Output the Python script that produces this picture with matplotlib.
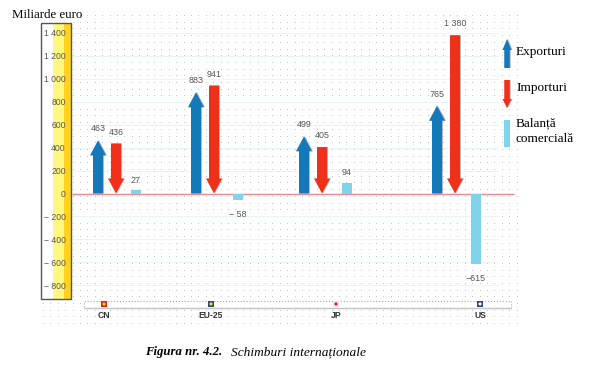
import numpy as np
import matplotlib
matplotlib.use("Agg")
import matplotlib.pyplot as plt
from matplotlib.patches import Polygon, Rectangle

countries = ["CN", "EU-25", "JP", "US"]
exports = [463, 883, 499, 765]
imports = [436, 941, 405, 1380]
balance = [27, -58, 94, -615]
export_labels = ["463", "883", "499", "765"]
import_labels = ["436", "941", "405", "1 380"]
balance_labels = ["27", "\u2212 58", "94", "\u2212615"]
yticks = [1400, 1200, 1000, 800, 600, 400, 200, 0, -200, -400, -600, -800]
ytick_labels = ["1 400", "1 200", "1 000", "800", "600", "400", "200", "0",
                "\u2212 200", "\u2212 400", "\u2212 600", "\u2212 800"]

# horizontal placement, in picture pixels
export_x = [98, 196, 304, 437]
import_x = [116, 214, 322, 455]
balance_x = [136, 238, 347, 476]
flag_x = [104, 211, 336, 480]
flag_colors = ["#e02020", "#2a4a90", "#e8e8e8", "#2a4a90"]
flag_inner = ["#ffe000", "#ffe000", "#e8102a", "#ffffff"]

BLUE = "#1578b8"
RED = "#f03018"
CYAN = "#7fd4ec"
GREY = "#555555"
W, H = 592, 376
px_per_unit = 0.1147

fig = plt.figure(figsize=(W / 100, H / 100), dpi=100)

# background layer in pixel coordinates: dots, legend, captions
bg = fig.add_axes([0, 0, 1, 1])
bg.set_xlim(0, W)
bg.set_ylim(H, 0)
bg.axis("off")
gx, gy = np.meshgrid(np.arange(43, 518, 7.4), np.arange(15, 324, 6.7))
keep = (gx > 72) | (gy > 300)
bg.scatter(gx[keep], gy[keep], s=0.45, color="#c0c0c0", linewidths=0)


def arrow(ax, x, base, tip, color, shaft=10, head=16, head_len=15, y_px=1.0, z=3):
    # base and tip in data units, sizes in pixels, y_px = pixels per data unit
    sign = 1 if tip > base else -1
    neck = tip - sign * head_len / y_px
    pts = [(x - shaft / 2, base), (x - shaft / 2, neck), (x - head / 2, neck), (x, tip),
           (x + head / 2, neck), (x + shaft / 2, neck), (x + shaft / 2, base)]
    shadow = [(px + 1, py) for px, py in pts]
    ax.add_patch(Polygon(shadow, closed=True, color="#b8b8b8", lw=0, zorder=z - 1))
    ax.add_patch(Polygon(pts, closed=True, color=color, lw=0, zorder=z))


# legend keys
arrow(bg, 507, 68, 39, BLUE, shaft=5.5, head=9, head_len=11)
arrow(bg, 507, 80, 108, RED, shaft=5.5, head=9, head_len=9)
bg.add_patch(Rectangle((504, 120), 6, 27, color=CYAN, lw=0))
serif = {"family": "Liberation Serif", "size": 9.5, "color": "black"}
bg.text(516, 52, "Exporturi", va="center", **serif)
bg.text(516, 88, "Importuri", va="center", **serif)
bg.text(516, 123, "Balan\u021b\u0103", va="center", **serif)
bg.text(516, 139, "comercial\u0103", va="center", **serif)
bg.text(12, 15, "Miliarde euro", va="center", family="Liberation Serif", size=9.3)
bg.text(145, 352, "Figura nr. 4.2.", va="center", family="Liberation Serif", size=9.2,
        weight="bold", style="italic")
bg.text(231, 352, "Schimburi interna\u021bionale", va="center", family="Liberation Serif",
        size=9.6, style="italic")

# main chart, x in pixels, y in miliarde euro
ax = fig.add_axes([41.5 / W, 1 - 299 / H, (516 - 41.5) / W, (299 - 22.5) / H])
ax.patch.set_alpha(0)
ax.set_xlim(41.5, 516)
ax.set_ylim((193.5 - 299) / px_per_unit, (193.5 - 22.5) / px_per_unit)
for s in ax.spines.values():
    s.set_visible(False)

ax.axvspan(53.5, 64, color="#fff780", lw=0, zorder=1)
ax.axvspan(64, 71.5, color="#ffd21e", lw=0, zorder=1)
ax.add_patch(Rectangle((41.5, ax.get_ylim()[0]), 30, ax.get_ylim()[1] - ax.get_ylim()[0],
                       fill=False, ec="#555555", lw=1, zorder=2, clip_on=False))

# grid stops short of the legend keys
ax.hlines([t for t in yticks if t != 0], 72, 498, color="#e4f6fa", lw=0.7, zorder=1)
ax.hlines(0, 72, 514, color="#e88a90", lw=1, zorder=2)

ax.set_yticks(yticks, ytick_labels)
ax.tick_params(axis="y", length=0, pad=-17.5, labelsize=6.2, labelcolor=GREY, labelfontfamily="Liberation Sans")
ax.set_xticks(flag_x, countries)
ax.tick_params(axis="x", length=0, pad=9, labelsize=6.2, labelcolor="#333333", labelfontfamily="Liberation Sans")
for label in ax.get_xticklabels():
    label.set_fontweight("bold")

# category band with flags
band_y = -963
ax.add_patch(Rectangle((84.5, -995), 427, 60, fc="white", ec="#a8a8a8", lw=0.8, ls=":", clip_on=False, zorder=2))
ax.hlines(-998, 84.5, 511, color="#c4c4c4", lw=1, clip_on=False, zorder=2)
ax.scatter(flag_x, [band_y] * 4, s=24, marker="s", c=flag_colors, linewidths=0, clip_on=False, zorder=3)
ax.scatter(flag_x, [band_y] * 4, s=5, marker="o", c=flag_inner, linewidths=0, clip_on=False, zorder=4)

small = {"size": 6.4, "color": GREY, "family": "Liberation Sans", "ha": "center"}
for x, v, lab in zip(export_x, exports, export_labels):
    arrow(ax, x, 0, v, BLUE, y_px=px_per_unit)
    ax.annotate(lab, (x, v), xytext=(0, 5), textcoords="offset points", va="bottom", **small)
for x, v, lab in zip(import_x, imports, import_labels):
    arrow(ax, x, v, 0, RED, y_px=px_per_unit)
    ax.annotate(lab, (x, v), xytext=(0, 5), textcoords="offset points", va="bottom", **small)
ax.bar(balance_x, balance, width=10, color=CYAN, lw=0, zorder=3)
for x, v, lab in zip(balance_x, balance, balance_labels):
    off = 4 if v > 0 else -7
    ax.annotate(lab, (x, v), xytext=(0, off), textcoords="offset points",
                va="bottom" if v > 0 else "top", **small)

fig.savefig("out.png", dpi=100)
